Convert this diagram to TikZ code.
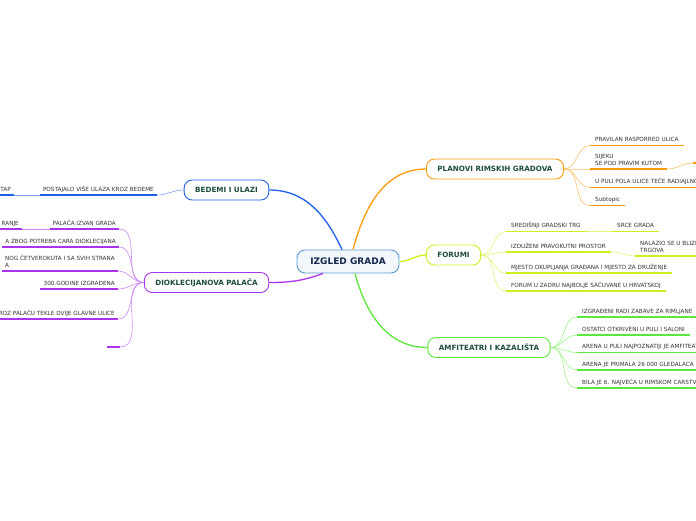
\documentclass[tikz,border=0pt]{standalone}
\usepackage{fontspec}
\setmainfont{DejaVu Sans}
\usetikzlibrary{positioning}
\definecolor{rootblue}{HTML}{5B9BD5}
\definecolor{rootnavy}{HTML}{14264A}
\definecolor{headgreen}{HTML}{1E4D3A}
\definecolor{leafgray}{HTML}{333333}
\definecolor{planorange}{HTML}{FF9A0A}
\definecolor{forumlime}{HTML}{D2EE1E}
\definecolor{amfigreen}{HTML}{5CE83A}
\definecolor{bedemblue}{HTML}{1F5FE8}
\definecolor{palacepurple}{HTML}{AA33EE}

\begin{document}
\begin{tikzpicture}[
    x=1pt, y=-1pt,
    font=\fontsize{5.7}{7}\selectfont,
    rootbox/.style={draw=rootblue, fill=rootblue!8, line width=0.9pt, rounded corners=8pt, minimum width=102pt, minimum height=23pt, font=\fontsize{9}{10}\selectfont\bfseries, text=rootnavy},
    topicbox/.style={draw=#1, fill=white, line width=0.9pt, rounded corners=8pt, minimum height=20pt, inner xsep=11pt, font=\fontsize{7.2}{8}\selectfont\bfseries, text=headgreen},
    leaf/.style={inner xsep=5pt, inner ysep=3.5pt, text depth=0pt, align=left, text=leafgray, anchor=south west},
    leafL/.style={leaf, anchor=south east, inner xsep=3pt},
    uline/.style={draw=#1, line width=1.6pt},
    mainlink/.style={draw=#1, line width=1.3pt},
    sublink/.style={draw=#1!60, line width=0.6pt},
]
    \useasboundingbox (0,0) rectangle (696,520);

    % =====================================================================
    % ROOT AND MAIN TOPICS
    % =====================================================================
    \node[rootbox] (root) at (348,261.5) {IZGLED GRADA};

    \node[topicbox=planorange] (planovi) at (495,169) {PLANOVI RIMSKIH GRADOVA};
    \node[topicbox=forumlime] (forumi) at (453.5,255) {FORUMI};
    \node[topicbox=amfigreen] (amfi) at (489,347.5) {AMFITEATRI I KAZALIŠTA};
    \node[topicbox=bedemblue] (bedemi) at (226.5,190) {BEDEMI I ULAZI};
    \node[topicbox=palacepurple] (palaca) at (206.5,282.5) {DIOKLECIJANOVA PALAČA};

    \draw[mainlink=planorange] ([xshift=5pt]root.north) to[out=75, in=180] (planovi.west);
    \draw[mainlink=bedemblue] ([xshift=-6pt]root.north) to[out=115, in=0] (bedemi.east);
    \draw[mainlink=forumlime] (root.east) to[out=0, in=180] (forumi.west);
    \draw[mainlink=amfigreen] ([xshift=7pt]root.south) to[out=-75, in=180] (amfi.west);
    \draw[mainlink=palacepurple] ([xshift=-25pt]root.south) to[out=200, in=0] (palaca.east);

    % =====================================================================
    % PLANOVI RIMSKIH GRADOVA
    % =====================================================================
    \node[leaf] (p1) at (590,145.5) {PRAVILAN RASPORRED ULICA};
    \node[leaf] (p2) at (590,169) {SIJEKU\\SE POD PRAVIM KUTOM};
    \node[leaf] (p3) at (590,187.5) {U PULI POLA ULICE TEČE RADIAJLNO};
    \node[leaf] (p4) at (590,205.5) {Subtopic};
    \coordinate (p2a) at (693,163);

    \foreach \n in {p1,p2,p3,p4} {
        \draw[sublink=planorange] (planovi.east) to[out=0, in=180] (\n.south west);
        \draw[uline=planorange] (\n.south west) -- (\n.south east);
    }
    \draw[sublink=planorange] (p2.south east) to[out=0, in=180] (p2a);
    \draw[uline=planorange] (p2a) -- ++(10,0);

    % =====================================================================
    % FORUMI
    % =====================================================================
    \node[leaf] (f1) at (506,231.5) {SREDIŠNJI GRADSKI TRG};
    \node[leaf] (f2) at (506,252) {IZDUŽENI PRAVOKUTNI PROSTOR};
    \node[leaf] (f3) at (506,273) {MJESTO OKUPLJANJA GRAĐANA I MJESTO ZA DRUŽENJE};
    \node[leaf] (f4) at (506,291) {FORUM U ZADRU NAJBOLJE SAČUVANE U HRVATSKOJ};
    \node[leaf] (f1a) at (612,231.5) {SRCE GRADA};
    \node[leaf] (f2a) at (635,256) {NALAZIO SE U BLIZINI\\TRGOVA};

    \foreach \n in {f1,f2,f3,f4} {
        \draw[sublink=forumlime] (forumi.east) to[out=0, in=180] (\n.south west);
    }
    \draw[sublink=forumlime] (f1.south east) -- (f1a.south west);
    \draw[sublink=forumlime] (f2.south east) to[out=0, in=180] (f2a.south west);
    \foreach \n in {f1,f2,f3,f4,f1a,f2a} {
        \draw[uline=forumlime] (\n.south west) -- (\n.south east);
    }

    % =====================================================================
    % AMFITEATRI I KAZALISTA
    % =====================================================================
    \node[leaf] (a1) at (577,317) {IZGRAĐENI RADI ZABAVE ZA RIMLJANE};
    \node[leaf] (a2) at (577,335) {OSTATCI OTKRIVENI U PULI I SALONI};
    \node[leaf] (a3) at (577,352.5) {ARENA U PULI NAJPOZNATIJI JE AMFITEATAR};
    \node[leaf] (a4) at (577,370) {ARENA JE PRIMALA 26 000 GLEDALACA};
    \node[leaf] (a5) at (577,388) {BILA JE 6. NAJVEĆA U RIMSKOM CARSTVU};

    \foreach \n in {a1,a2,a3,a4,a5} {
        \draw[sublink=amfigreen] (amfi.east) to[out=0, in=180] (\n.south west);
        \draw[uline=amfigreen] (\n.south west) -- (\n.south east);
    }

    % =====================================================================
    % BEDEMI I ULAZI
    % =====================================================================
    \node[leafL] (b1) at (157,195) {POSTAJALO VIŠE ULAZA KROZ BEDEME};
    \node[leafL] (b1a) at (14,195) {TAP};

    \draw[sublink=bedemblue] (bedemi.west) to[out=180, in=0] (b1.south east);
    \draw[sublink=bedemblue] (b1.south west) -- (b1a.south east);
    \foreach \n in {b1,b1a} {
        \draw[uline=bedemblue] (\n.south west) -- (\n.south east);
    }

    % =====================================================================
    % DIOKLECIJANOVA PALACA
    % =====================================================================
    \node[leafL] (d1) at (119,229) {PALAČA IZVAN GRADA};
    \node[leafL] (d2) at (119,247) {A ZBOG POTREBA CARA DIOKLECIJANA};
    \node[leafL] (d3) at (118,271) {NOG ČETVEROKUTA I SA SVIH STRANA\\A};
    \node[leafL] (d4) at (118,289) {300.GODINE IZGRAĐENA};
    \node[leafL] (d5) at (118,319) {KROZ PALAČU TEKLE DVIJE GLAVNE ULICE};
    \node[leafL, minimum width=13pt] (d6) at (120,347) {};
    \node[leafL] (d1a) at (22,229) {RANJE};

    \foreach \n in {d1,d2,d3,d4,d5,d6} {
        \draw[sublink=palacepurple] (palaca.west) to[out=180, in=0] (\n.south east);
    }
    \draw[sublink=palacepurple] (d1.south west) -- (d1a.south east);
    \foreach \n in {d1,d2,d3,d4,d5,d6,d1a} {
        \draw[uline=palacepurple] (\n.south west) -- (\n.south east);
    }

\end{tikzpicture}
\end{document}
